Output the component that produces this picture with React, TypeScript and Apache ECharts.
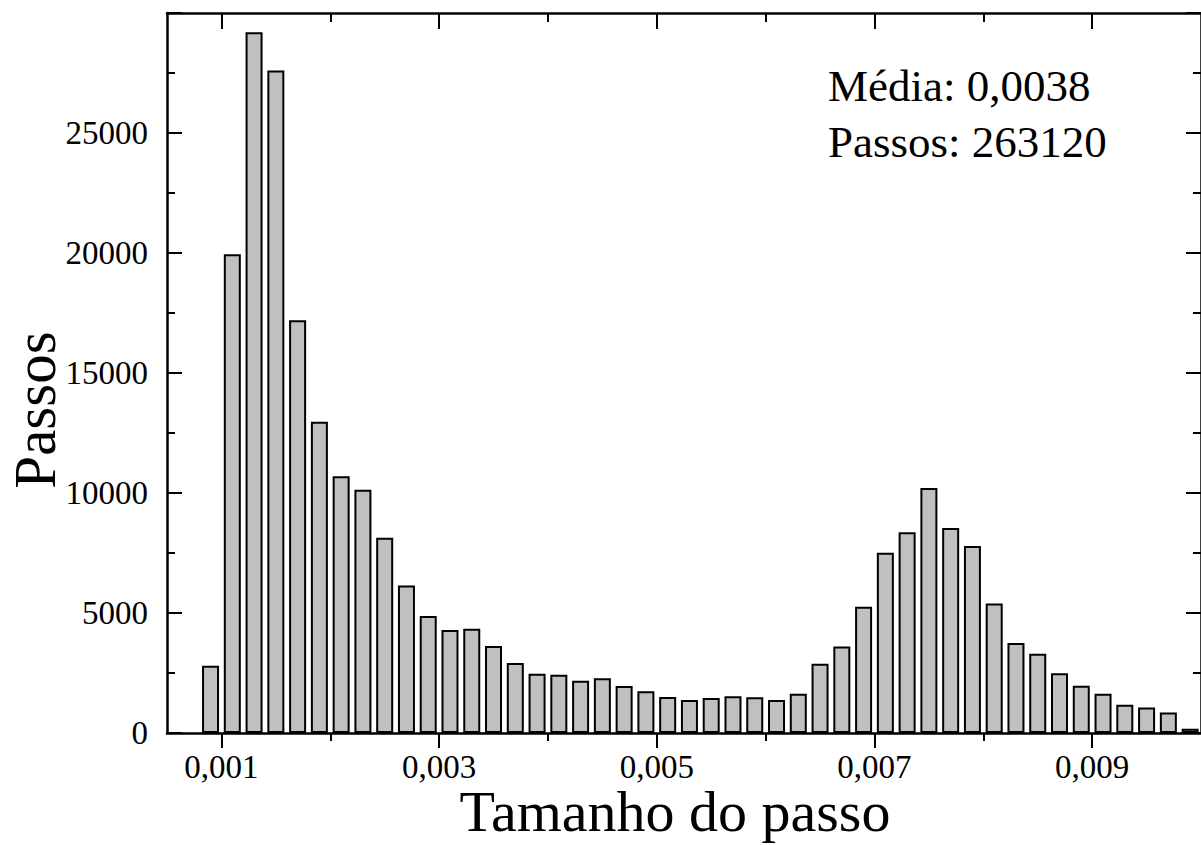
import React, { useEffect, useRef } from "react";
import * as echarts from "echarts";

// Histogram bin centres (step size) and counts
const binCenters = [
  0.0009, 0.0011, 0.0013, 0.0015, 0.0017, 0.0019, 0.0021, 0.0023, 0.0025, 0.0027,
  0.0029, 0.0031, 0.0033, 0.0035, 0.0037, 0.0039, 0.0041, 0.0043, 0.0045, 0.0047,
  0.0049, 0.0051, 0.0053, 0.0055, 0.0057, 0.0059, 0.0061, 0.0063, 0.0065, 0.0067,
  0.0069, 0.0071, 0.0073, 0.0075, 0.0077, 0.0079, 0.0081, 0.0083, 0.0085, 0.0087,
  0.0089, 0.0091, 0.0093, 0.0095, 0.0097, 0.0099,
];
const counts = [
  2800, 19950, 29200, 27600, 17200, 12970, 10700, 10140, 8140, 6150,
  4870, 4290, 4340, 3620, 2920, 2470, 2430, 2180, 2280, 1960,
  1740, 1500, 1380, 1460, 1530, 1490, 1380, 1640, 2890, 3600,
  5260, 7510, 8360, 10210, 8540, 7790, 5400, 3750, 3300, 2490,
  1970, 1640, 1180, 1060, 850, 180,
];

const xMajorTicks = [0.001, 0.003, 0.005, 0.007, 0.009];
const xMinorTicks = [0.002, 0.004, 0.006, 0.008];
const xMin = 0.0005;
const xMax = 0.01;
const yMin = 0;
const yMax = 30000;
const yInterval = 5000;

const xTitle = "Tamanho do passo";
const yTitle = "Passos";
const annotationLines = ["Média: 0,0038", "Passos: 263120"];

const FONT = '"Liberation Serif", "Times New Roman", serif';

export default function App() {
  const ref = useRef<HTMLDivElement>(null);

  useEffect(() => {
    if (!ref.current) return;
    const chart = echarts.init(ref.current, undefined, { renderer: "svg" });

    const axisLine = { show: true, onZero: false, lineStyle: { color: "#000", width: 2.5 } };
    const tickLine = { color: "#000", width: 2 };

    const baseX = {
      type: "value" as const,
      min: xMin,
      max: xMax,
      splitLine: { show: false },
      minorSplitLine: { show: false },
    };

    const baseY = {
      type: "value" as const,
      min: yMin,
      max: yMax,
      interval: yInterval,
      splitLine: { show: false },
      axisLine,
      axisTick: { show: true, inside: true, length: 15, lineStyle: tickLine },
      minorTick: { show: true, splitNumber: 2, length: 8, lineStyle: tickLine },
    };

    chart.setOption({
      animation: false,
      backgroundColor: "#fff",
      grid: { left: 167, right: -11, top: 13, bottom: 112, containLabel: false },
      xAxis: [
        {
          ...baseX,
          position: "bottom",
          axisLine,
          axisTick: { show: true, inside: false, length: 15, customValues: xMajorTicks, lineStyle: tickLine },
          axisLabel: {
            show: true,
            customValues: xMajorTicks,
            formatter: (v: number) => v.toFixed(3).replace(".", ","),
            fontSize: 33,
            lineHeight: 28,
            fontFamily: FONT,
            color: "#000",
            margin: 20,
          },
        },
        {
          ...baseX,
          position: "bottom",
          axisLine: { show: false, onZero: false },
          axisTick: { show: true, inside: false, length: 8, customValues: xMinorTicks, lineStyle: tickLine },
          axisLabel: { show: false },
        },
        {
          ...baseX,
          position: "top",
          axisLine,
          axisTick: { show: true, inside: true, length: 16, customValues: xMajorTicks, lineStyle: tickLine },
          axisLabel: { show: false },
        },
        {
          ...baseX,
          position: "top",
          axisLine: { show: false, onZero: false },
          axisTick: { show: true, inside: true, length: 9, customValues: xMinorTicks, lineStyle: tickLine },
          axisLabel: { show: false },
        },
      ],
      yAxis: [
        {
          ...baseY,
          position: "left",
          axisLabel: {
            show: true,
            showMaxLabel: false,
            formatter: (v: number) => String(v),
            fontSize: 33,
            fontFamily: FONT,
            color: "#000",
            margin: 19,
          },
        },
        {
          ...baseY,
          position: "right",
          axisLabel: { show: false },
        },
      ],
      series: [
        {
          type: "bar",
          xAxisIndex: 0,
          yAxisIndex: 0,
          barWidth: 17,
          itemStyle: { color: "#c0c0c0", borderColor: "#000", borderWidth: 2 },
          data: binCenters.map((c, i) => [c, counts[i]]),
        },
      ],
      graphic: [
        {
          type: "text",
          x: 675,
          y: 811,
          style: {
            text: xTitle,
            fontSize: 58,
            lineHeight: 40,
            fontFamily: FONT,
            fill: "#000",
            align: "center",
            verticalAlign: "middle",
          },
        },
        {
          type: "text",
          x: 35,
          y: 410,
          rotation: Math.PI / 2,
          style: { text: yTitle, fontSize: 59, fontFamily: FONT, fill: "#000", align: "center", verticalAlign: "middle" },
        },
        {
          type: "text",
          x: 828,
          y: 86,
          style: { text: annotationLines[0], fontSize: 45, fontFamily: FONT, fill: "#000", align: "left", verticalAlign: "middle" },
        },
        {
          type: "text",
          x: 828,
          y: 142,
          style: { text: annotationLines[1], fontSize: 45, fontFamily: FONT, fill: "#000", align: "left", verticalAlign: "middle" },
        },
      ],
    });

    return () => chart.dispose();
  }, []);

  return (
    <div
      ref={ref}
      style={{ position: "fixed", left: 0, top: 0, width: 1201, height: 845, background: "#fff" }}
    />
  );
}
